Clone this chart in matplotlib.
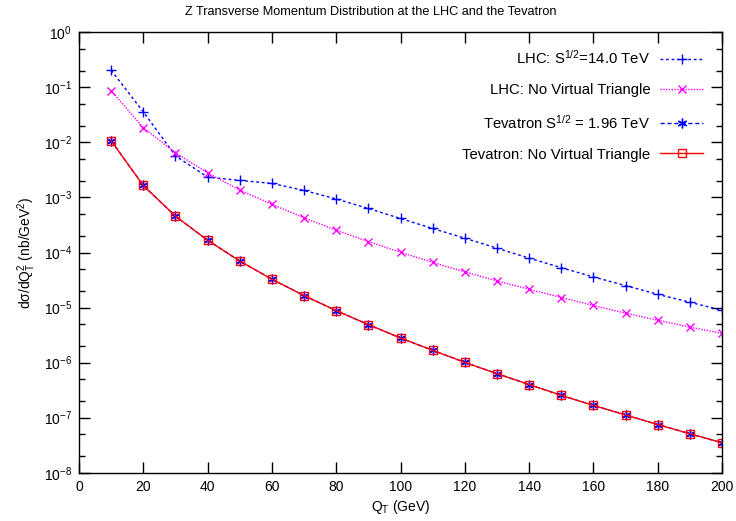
import numpy as np
import matplotlib
matplotlib.use("Agg")
import matplotlib.pyplot as plt
from matplotlib.ticker import MultipleLocator, NullFormatter

plt.rcParams['font.family'] = ['Liberation Sans', 'DejaVu Sans']
plt.rcParams['mathtext.default'] = 'regular'
plt.rcParams['font.size'] = 10

qt = [10, 20, 30, 40, 50, 60, 70, 80, 90, 100, 110, 120, 130, 140, 150,
      160, 170, 180, 190, 200]

lhc = [2.04e-1, 3.6e-2, 5.7e-3, 2.34e-3, 2.04e-3, 1.8e-3, 1.34e-3, 9.4e-4,
       6.3e-4, 4.15e-4, 2.73e-4, 1.82e-4, 1.2e-4, 7.9e-5, 5.3e-5, 3.6e-5,
       2.5e-5, 1.74e-5, 1.25e-5, 8.9e-6]
lhc_nv = [8.7e-2, 1.85e-2, 6.5e-3, 2.8e-3, 1.36e-3, 7.5e-4, 4.26e-4, 2.54e-4,
          1.58e-4, 1.01e-4, 6.6e-5, 4.45e-5, 3.05e-5, 2.15e-5, 1.52e-5,
          1.09e-5, 7.9e-6, 5.9e-6, 4.4e-6, 3.4e-6]
tev = [1.07e-2, 1.65e-3, 4.57e-4, 1.67e-4, 7.0e-5, 3.27e-5, 1.65e-5, 8.8e-6,
       4.9e-6, 2.8e-6, 1.67e-6, 1.01e-6, 6.3e-7, 4.0e-7, 2.54e-7, 1.67e-7,
       1.12e-7, 7.5e-8, 5.1e-8, 3.5e-8]
tev_nv = [1.07e-2, 1.65e-3, 4.57e-4, 1.67e-4, 7.0e-5, 3.27e-5, 1.65e-5, 8.8e-6,
          4.9e-6, 2.8e-6, 1.67e-6, 1.01e-6, 6.3e-7, 4.0e-7, 2.54e-7, 1.67e-7,
          1.12e-7, 7.5e-8, 5.1e-8, 3.5e-8]

labels = ['LHC: S$^{1/2}$=14.0 TeV', 'LHC: No Virtual Triangle',
          'Tevatron S$^{1/2}$ = 1.96 TeV', 'Tevatron: No Virtual Triangle']
decades = list(range(-8, 1))

fig = plt.figure(figsize=(7.36, 5.21), dpi=100)
ax = fig.add_axes([79 / 736, 1 - 472.7 / 521, (722 - 79) / 736, (472.7 - 32.3) / 521])

ax.plot(qt, lhc, color='#0000ff', ls=(0, (2, 2)), lw=1, marker='+', ms=7,
        mew=1, label=labels[0])
ax.plot(qt, lhc_nv, color='#ff00ff', ls=(0, (1, 1)), lw=1, marker='x', ms=6,
        mew=1, label=labels[1])
ax.plot(qt, tev, color='#0000ff', ls=(0, (3, 2)), lw=1, marker=(6, 2, 0),
        ms=7, mew=1, label=labels[2])
ax.plot(qt, tev_nv, color='#ff0000', ls='-', lw=1, marker='s', ms=6, mew=1,
        mfc='none', label=labels[3])

ax.set_yscale('log')
ax.set_xlim(0, 200)
ax.set_ylim(1e-8, 1)
ax.xaxis.set_major_locator(MultipleLocator(20))
ax.set_yticks([10.0 ** d for d in decades])
ax.set_yticklabels(['$10^{%d}$' % d for d in decades])
ax.set_yticks([m * 10.0 ** d for d in decades[:-1] for m in (2, 5)], minor=True)
ax.yaxis.set_minor_formatter(NullFormatter())
ax.tick_params(which='both', direction='in', top=True, right=True, width=1)
ax.tick_params(which='major', length=8, pad=5)
ax.tick_params(which='minor', length=4)
for s in ax.spines.values():
    s.set_linewidth(1)

fig.text(371 / 736, 1 - 12 / 521,
         'Z Transverse Momentum Distribution at the LHC and the Tevatron',
         fontsize=9.2, ha='center', va='center')
ax.set_xlabel('Q$_T$ (GeV)', labelpad=3)
ax.set_ylabel('d\u03c3/dQ$_T^2$ (nb/GeV$^2$)', labelpad=4)

ax.legend(loc='upper right', bbox_to_anchor=(0.992, 0.992), frameon=False,
          markerfirst=False, fontsize=10.7, handlelength=2.9,
          handletextpad=0.67, labelspacing=1.09)

fig.savefig('out.png', dpi=100)
